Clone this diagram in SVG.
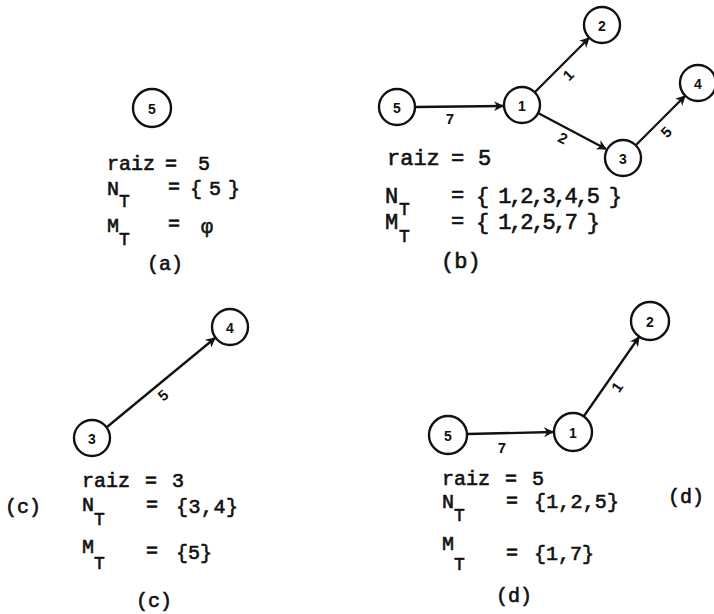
<svg xmlns="http://www.w3.org/2000/svg" width="714" height="614" viewBox="0 0 714 614">
<defs>
<marker id="ah" viewBox="0 0 10 10" refX="9" refY="5" markerWidth="10" markerHeight="10" markerUnits="userSpaceOnUse" orient="auto">
<path d="M0,0 L10,5 L0,10 L3,5 Z" fill="#111"/>
</marker>
<style>
.bg{fill:#ffffff}
.nd circle{fill:none;stroke:#111;stroke-width:2.4}
.nd text{font-family:"Liberation Sans",Arial,sans-serif;font-weight:bold;font-size:14px;fill:#111;text-anchor:middle;dominant-baseline:central}
.e{stroke:#111;stroke-width:2.3;fill:none;marker-end:url(#ah)}
.el{font-family:"Liberation Sans",Arial,sans-serif;font-weight:bold;font-size:15px;fill:#111;text-anchor:middle;dominant-baseline:central}
.t{font-family:"Liberation Mono","Courier New",monospace;fill:#111;stroke:#111;stroke-width:0.6}
.s20{font-size:20px}
.s22{font-size:22px}
.sub{font-size:18px}
</style>
</defs>
<rect class="bg" x="0" y="0" width="714" height="614"/>

<!-- Panel (a) -->
<g id="a-node-5" class="nd"><circle cx="152" cy="108" r="19"/><text x="152" y="109">5</text></g>
<g id="a-text" class="t s20">
<text x="107" y="170">raiz</text><text x="165" y="170">=</text><text x="198" y="170">5</text>
<text x="107" y="195">N</text><text class="sub" x="119" y="207">T</text>
<text x="168" y="193">=</text><text x="190" y="195" textLength="50" lengthAdjust="spacing">{ 5 }</text>
<text x="107" y="232">M</text><text class="sub" x="119" y="245">T</text>
<text x="168" y="230">=</text><text x="201" y="233">φ</text>
<text x="147" y="270">(a)</text>
</g>

<!-- Panel (b) -->
<g id="b-node-5" class="nd"><circle cx="397" cy="107" r="18"/><text x="397" y="108">5</text></g>
<g id="b-node-1" class="nd"><circle cx="522" cy="105" r="18"/><text x="522" y="106">1</text></g>
<g id="b-node-2" class="nd"><circle cx="602" cy="25" r="18"/><text x="602" y="26">2</text></g>
<g id="b-node-3" class="nd"><circle cx="623" cy="158" r="18"/><text x="623" y="159">3</text></g>
<g id="b-node-4" class="nd"><circle cx="698" cy="83" r="18"/><text x="698" y="84">4</text></g>
<g id="b-edges">
<line class="e" x1="415" y1="107" x2="503" y2="106"/>
<line class="e" x1="535" y1="92" x2="589" y2="38"/>
<line class="e" x1="538" y1="113" x2="606" y2="149"/>
<line class="e" x1="636" y1="145" x2="685" y2="96"/>
<text class="el" x="450" y="118">7</text>
<text class="el" x="568" y="75" transform="rotate(-45 568 75)">1</text>
<text class="el" x="563" y="138" transform="rotate(27 563 138)">2</text>
<text class="el" x="666" y="132" transform="rotate(-45 666 132)">5</text>
</g>
<g id="b-text" class="t s22">
<text x="387" y="165">raiz</text><text x="451" y="165">=</text><text x="478" y="165">5</text>
<text x="385" y="203">N</text><text class="sub" x="399" y="215">T</text>
<text x="451" y="202">=</text><text x="476" y="203" textLength="146" lengthAdjust="spacing">{ 1,2,3,4,5 }</text>
<text x="385" y="229">M</text><text class="sub" x="399" y="242">T</text>
<text x="451" y="228">=</text><text x="476" y="229" textLength="124" lengthAdjust="spacing">{ 1,2,5,7 }</text>
<text x="441" y="268">(b)</text>
</g>

<!-- Panel (c) -->
<g id="c-node-3" class="nd"><circle cx="92" cy="438" r="18"/><text x="92" y="439">3</text></g>
<g id="c-node-4" class="nd"><circle cx="230" cy="327" r="18"/><text x="230" y="328">4</text></g>
<g id="c-edges">
<line class="e" x1="107" y1="427" x2="215" y2="338"/>
<text class="el" x="163" y="395" transform="rotate(-40 163 395)">5</text>
</g>
<g id="c-text" class="t s20">
<text x="82" y="487">raiz</text><text x="145" y="487">=</text><text x="172" y="487">3</text>
<text x="5" y="513">(c)</text>
<text x="82" y="511">N</text><text class="sub" x="94" y="525">T</text>
<text x="146" y="511">=</text><text x="176" y="513" textLength="62" lengthAdjust="spacing">{3,4}</text>
<text x="82" y="553">M</text><text class="sub" x="94" y="569">T</text>
<text x="146" y="557">=</text><text x="176" y="559" textLength="36" lengthAdjust="spacing">{5}</text>
<text x="136" y="607">(c)</text>
</g>

<!-- Panel (d) -->
<g id="d-node-5" class="nd"><circle cx="448" cy="435" r="19"/><text x="448" y="436">5</text></g>
<g id="d-node-1" class="nd"><circle cx="573" cy="432" r="19"/><text x="573" y="433">1</text></g>
<g id="d-node-2" class="nd"><circle cx="650" cy="321" r="19"/><text x="650" y="322">2</text></g>
<g id="d-edges">
<line class="e" x1="467" y1="434" x2="553" y2="432"/>
<line class="e" x1="584" y1="416" x2="639" y2="337"/>
<text class="el" x="502" y="447">7</text>
<text class="el" x="617" y="387" transform="rotate(-55 617 387)">1</text>
</g>
<g id="d-text" class="t s20">
<text x="442" y="485">raiz</text><text x="505" y="485">=</text><text x="532" y="485">5</text>
<text x="442" y="508">N</text><text class="sub" x="454" y="521">T</text>
<text x="506" y="507">=</text><text x="534" y="508" textLength="85" lengthAdjust="spacing">{1,2,5}</text>
<text x="668" y="503">(d)</text>
<text x="442" y="550">M</text><text class="sub" x="454" y="570">T</text>
<text x="506" y="559">=</text><text x="534" y="560" textLength="60" lengthAdjust="spacing">{1,7}</text>
<text x="496" y="602">(d)</text>
</g>
</svg>
